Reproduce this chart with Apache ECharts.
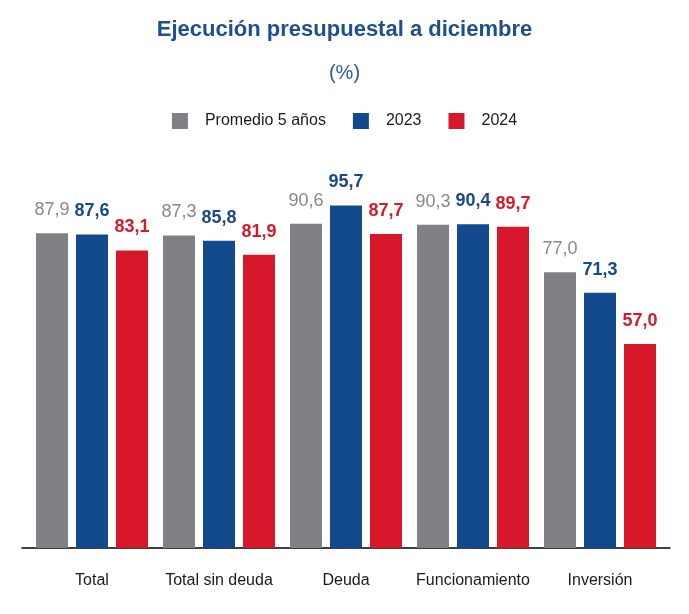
<!DOCTYPE html>
<html><head><meta charset="utf-8">
<script src="https://cdn.jsdelivr.net/npm/echarts@6/dist/echarts.min.js"></script>
<style>html,body{margin:0;padding:0;background:#fff}#c{width:689px;height:614px}</style>
</head><body><div id="c"></div>
<script>
const categories = ["Total", "Total sin deuda", "Deuda", "Funcionamiento", "Inversión"];
const seriesNames = ["Promedio 5 años", "2023", "2024"];
const promedio = [87.9, 87.3, 90.6, 90.3, 77.0];
const y2023 = [87.6, 85.8, 95.7, 90.4, 71.3];
const y2024 = [83.1, 81.9, 87.7, 89.7, 57.0];

const colors = ["#808184", "#134a8e", "#d7182a"];
const labelColors = ["#88888b", "#17498b", "#d51a2c"];
const font = "'Liberation Sans', Arial, sans-serif";
const fmt = p => p.value.toFixed(1).replace('.', ',');

const chart = echarts.init(document.getElementById('c'), null, {renderer: 'canvas'});
const mk = (name, data, i) => ({
  name, type: 'bar', data,
  barWidth: 32, barGap: '25%',
  itemStyle: {color: colors[i]},
  label: {show: true, position: 'top', distance: 14, formatter: fmt,
    color: labelColors[i], fontFamily: font, fontSize: 18,
    fontWeight: i === 0 ? 'normal' : 'bold'}
});
chart.setOption({
  animation: false,
  title: [
    {text: 'Ejecución presupuestal a diciembre', left: 'center', top: 14,
     textStyle: {color: '#1f4f8f', fontFamily: font, fontSize: 22, fontWeight: 'bold'}},
    {text: '(%)', left: 'center', top: 58,
     textStyle: {color: '#2d5a98', fontFamily: font, fontSize: 20, fontWeight: 'normal'}}
  ],
  legend: {
    top: 108, left: 'center', itemWidth: 16, itemHeight: 16, itemGap: 27,
    icon: 'rect', data: seriesNames,
    textStyle: {color: '#1a1a1a', fontFamily: font, fontSize: 16, padding: [0, 0, 0, 12]}
  },
  grid: [
    {left: 28.5, width: 635, top: 190, height: 358, containLabel: false},
    {left: 22, width: 648, top: 190, height: 358, containLabel: false}
  ],
  xAxis: [{
    type: 'category', data: categories, gridIndex: 0,
    axisLine: {show: false},
    axisTick: {show: false},
    axisLabel: {color: '#1a1a1a', fontFamily: font, fontSize: 16, margin: 25, interval: 0}
  }, {
    type: 'category', data: categories, gridIndex: 1,
    axisLine: {show: true, lineStyle: {color: '#000', width: 1.5}},
    axisTick: {show: false}, axisLabel: {show: false}
  }],
  yAxis: [
    {type: 'value', min: 0, max: 100, show: false, splitLine: {show: false}, gridIndex: 0},
    {type: 'value', min: 0, max: 100, show: false, splitLine: {show: false}, gridIndex: 1}
  ],
  series: [mk(seriesNames[0], promedio, 0), mk(seriesNames[1], y2023, 1), mk(seriesNames[2], y2024, 2)]
});
</script></body></html>
